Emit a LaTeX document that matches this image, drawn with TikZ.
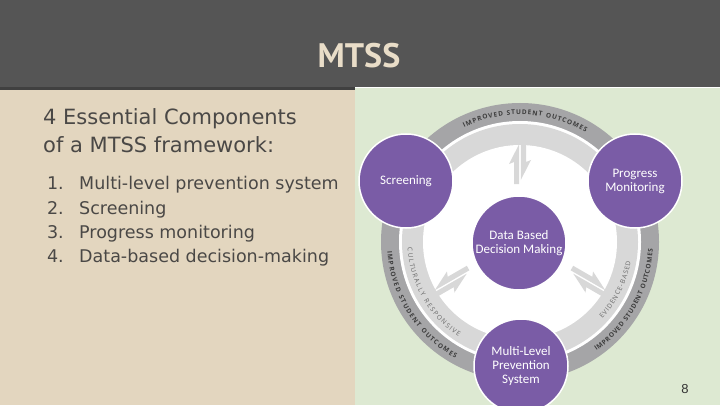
\documentclass[tikz,border=0pt]{standalone}
\usepackage{fontspec}
\setmainfont{DejaVu Sans}
\newfontfamily\titlefont{PT Sans}
\newfontfamily\wheelfont{Carlito}
\newfontfamily\ringfont{Open Sans}
\usetikzlibrary{decorations.text}
\definecolor{slatebar}{RGB}{85,85,85}
\definecolor{sandpanel}{RGB}{227,214,191}
\definecolor{sagepanel}{RGB}{221,233,210}
\definecolor{creamink}{RGB}{233,221,200}
\definecolor{bodyink}{RGB}{74,72,70}
\definecolor{wheelpurple}{RGB}{122,92,166}
\definecolor{ringdark}{RGB}{165,165,167}
\definecolor{ringlight}{RGB}{216,216,216}
\definecolor{ringink}{RGB}{60,60,60}
\definecolor{softink}{RGB}{105,105,105}

\begin{document}
\begin{tikzpicture}[x=1pt,y=1pt]
\tikzset{
  phase/.style={circle,fill=wheelpurple,draw=white,line width=1.5pt,minimum size=94pt,
    inner sep=0pt,align=center,text=white,font=\wheelfont\fontsize{13}{14}\selectfont},
  ringlabel/.style={decorate,decoration={text along path,text align={fit to path},text color=#1}},
  heading/.style={anchor=base west,inner sep=0pt,text=bodyink,font=\fontsize{21}{21}\selectfont},
  listing/.style={inner sep=0pt,text=bodyink,font=\fontsize{17.5}{17.5}\selectfont}
}
\clip (0,0) rectangle (720,405);
\fill[slatebar] (0,318) rectangle (720,405);
\fill[sandpanel] (0,0) rectangle (355,318);
\fill[black!75] (0,315) rectangle (355,318);
\fill[sagepanel] (355,0) rectangle (720,317);

\node[anchor=base,text=creamink,font=\titlefont\bfseries\fontsize{34}{34}\selectfont] (title) at (359,337) {MTSS};

\node[heading] (head) at (43,280) {4 Essential Components};
\node[heading] (head2) at (43,252) {of a MTSS framework:};
\foreach \n/\part [count=\i] in {1/Multi-level prevention system,2/Screening,3/Progress monitoring,4/Data-based decision-making}{
  \node[listing,anchor=base east] (num\i) at (64,239-24*\i) {\n.};
  \node[listing,anchor=base west] (item\i) at (79,239-24*\i) {\part};
}

\coordinate (hub) at (520,163);
\fill[ringdark] (hub) circle (139);
\fill[white] (hub) circle (121);
\fill[ringlight] (hub) circle (118);
\fill[white] (hub) circle (97);

\foreach \turn/\flip in {0/1,-120/1,-120/-1}{
  \begin{scope}[shift={(hub)},xscale=\flip,rotate=\turn]
    \fill[ringlight] (-0.8,58) -- (-0.8,98) -- (-11,78) -- (-6,80) -- (-6,58) -- cycle;
    \fill[ringlight] (0.8,100) -- (0.8,62) -- (11,82) -- (6,80) -- (6,100) -- cycle;
  \end{scope}
}

\path[ringlabel=ringink,decoration={text={|\ringfont\bfseries\fontsize{6.5}{6.5}\selectfont|IMPROVED STUDENT OUTCOMES}}]
  ([shift={(116:127.5)}]hub) arc[start angle=116,end angle=59,radius=127.5];
\path[ringlabel=ringink,decoration={text={|\ringfont\bfseries\fontsize{6.5}{6.5}\selectfont|IMPROVED STUDENT OUTCOMES}}]
  ([shift={(184:133)}]hub) arc[start angle=184,end angle=241,radius=133];
\path[ringlabel=ringink,decoration={text={|\ringfont\bfseries\fontsize{6.5}{6.5}\selectfont|IMPROVED STUDENT OUTCOMES}}]
  ([shift={(305:133)}]hub) arc[start angle=305,end angle=357,radius=133];
\path[ringlabel=softink,decoration={text={|\ringfont\fontsize{6.5}{6.5}\selectfont|CULTURALLY RESPONSIVE}}]
  ([shift={(183:112.5)}]hub) arc[start angle=183,end angle=237,radius=112.5];
\path[ringlabel=softink,decoration={text={|\ringfont\fontsize{6.5}{6.5}\selectfont|EVIDENCE-BASED}}]
  ([shift={(317:112.5)}]hub) arc[start angle=317,end angle=350,radius=112.5];

\node[phase] (screen) at (406,224) {Screening};
\node[phase] (monitor) at (635,224) {Progress\\Monitoring};
\node[phase] (levels) at (521,39) {Multi-Level\\Prevention\\System};
\node[phase] (decide) at (519,162) {Data Based\\Decision Making};

\node[text=black!80,font=\fontspec{Liberation Sans}\fontsize{13}{13}\selectfont] (page) at (685,16) {8};
\end{tikzpicture}
\end{document}
